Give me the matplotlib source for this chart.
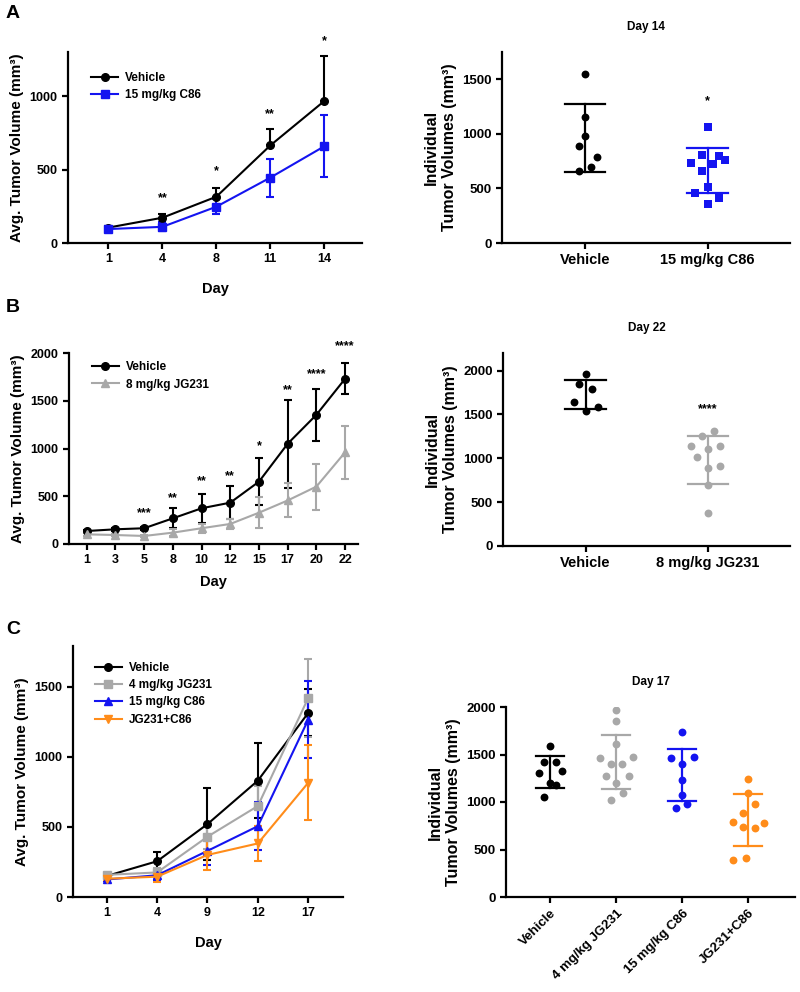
import numpy as np
import matplotlib
matplotlib.use("Agg")
import matplotlib.pyplot as plt
from matplotlib.lines import Line2D

plt.rcParams['font.family'] = ['Liberation Sans', 'DejaVu Sans']
plt.rcParams['font.weight'] = 'bold'
plt.rcParams['axes.labelweight'] = 'bold'
plt.rcParams['axes.linewidth'] = 1.6
plt.rcParams['xtick.major.width'] = 1.6
plt.rcParams['ytick.major.width'] = 1.6
plt.rcParams['xtick.major.size'] = 4
plt.rcParams['ytick.major.size'] = 4
plt.rcParams['xtick.labelsize'] = 9
plt.rcParams['ytick.labelsize'] = 9

BLACK = '#000000'
BLUE = '#1414f0'
GREY = '#a8a8a8'
ORANGE = '#ff8c1a'

# ---- panel A data ----
a_days = ['1', '4', '8', '11', '14']
a_veh_mean = [105, 172, 315, 664, 966]
a_veh_sd = [10, 25, 60, 110, 308]
a_c86_mean = [95, 110, 247, 445, 658]
a_c86_sd = [10, 30, 50, 130, 210]
a_stars = ['', '**', '*', '**', '*']
a_star_y = [0, 308, 486, 877, 1377]

a_veh_pts = [1545, 1159, 982, 893, 792, 663, 700]
a_veh_dx = [0, 0, 0, -0.05, 0.095, -0.05, 0.05]
a_c86_pts = [1061, 807, 731, 801, 722, 761, 663, 511, 456, 416, 355]
a_c86_dx = [0, -0.045, -0.135, 0.095, 0.046, 0.144, -0.045, 0, -0.1, 0.095, 0]
a_veh_bar = [654, 1272]
a_c86_bar = [456, 875]

# ---- panel B data ----
b_days = ['1', '3', '5', '8', '10', '12', '15', '17', '20', '22']
b_veh_mean = [136, 154, 165, 269, 374, 433, 653, 1050, 1353, 1730]
b_veh_sd = [15, 15, 15, 105, 152, 170, 248, 460, 270, 163]
b_jg_mean = [101, 94, 84, 119, 165, 210, 328, 456, 601, 960]
b_jg_sd = [15, 15, 15, 35, 45, 55, 165, 178, 240, 278]
b_stars = ['', '', '***', '**', '**', '**', '*', '**', '****', '****']
b_star_y = [0, 0, 328, 479, 653, 713, 1020, 1615, 1780, 2070]

b_veh_pts = [1966, 1848, 1791, 1638, 1585, 1543]
b_veh_dx = [0, -0.05, 0.05, -0.095, 0.1, 0]
b_jg_pts = [1307, 1257, 1135, 1105, 1135, 1010, 888, 914, 697, 381]
b_jg_dx = [0.05, -0.045, -0.135, 0, 0.1, -0.09, 0, 0.1, 0, 0]
b_veh_bar = [1562, 1889]
b_jg_bar = [705, 1257]

# ---- panel C data ----
c_days = ['1', '4', '9', '12', '17']
c_veh_mean = [150, 255, 520, 830, 1313]
c_veh_sd = [15, 65, 258, 268, 168]
c_jg4_mean = [158, 175, 430, 649, 1420]
c_jg4_sd = [15, 30, 90, 140, 280]
c_c86_mean = [125, 155, 329, 505, 1265]
c_c86_sd = [12, 35, 100, 170, 275]
c_combo_mean = [130, 145, 300, 382, 815]
c_combo_sd = [12, 35, 105, 122, 268]

c_groups = ['Vehicle', '4 mg/kg JG231', '15 mg/kg C86', 'JG231+C86']
c_veh_pts = [1589, 1421, 1421, 1309, 1323, 1200, 1175, 1053]
c_veh_dx = [0, -0.09, 0.09, -0.17, 0.18, 0, 0.09, -0.09]
c_jg4_pts = [1972, 1853, 1614, 1463, 1474, 1396, 1396, 1274, 1274, 1200, 1095, 1018]
c_jg4_dx = [0, 0, 0, -0.24, 0.26, -0.08, 0.09, -0.16, 0.19, 0, 0.1, -0.08]
c_c86_pts = [1737, 1463, 1474, 1396, 1228, 1077, 940, 982]
c_c86_dx = [0, -0.17, 0.18, 0, 0, 0, -0.1, 0.08]
c_combo_pts = [1239, 1098, 982, 888, 789, 782, 737, 730, 393, 414]
c_combo_dx = [0, 0, 0.1, -0.08, -0.23, 0.24, -0.08, 0.1, -0.23, -0.04]
c_bars = [[1147, 1484], [1133, 1702], [1011, 1561], [533, 1081]]

fig = plt.figure(figsize=(8, 9.92), dpi=100)


def px_axes(x0, x1, y0, y1):
    # axes from pixel box (top-left origin)
    return fig.add_axes([x0 / 800, 1 - y1 / 992, (x1 - x0) / 800, (y1 - y0) / 992])


def style(ax):
    ax.spines['top'].set_visible(False)
    ax.spines['right'].set_visible(False)
    ax.tick_params(direction='out')
    for lab in ax.get_xticklabels() + ax.get_yticklabels():
        lab.set_fontweight('bold')


def line_panel(ax, days, series, stars, star_y, ylim, yticks, xlim, xpad=12):
    x = np.arange(len(days))
    handles = []
    for mean, sd, color, marker, label, lower in series:
        lo = np.zeros(len(sd)) if not lower else np.array(sd)
        ax.errorbar(x, mean, yerr=[lo, sd], color=color, marker=marker, ms=5.5,
                    lw=1.5, elinewidth=1.5, capsize=3, capthick=1.5)
        handles.append(Line2D([], [], color=color, marker=marker, ms=5.5, lw=1.5, label=label))
    for xi, s, sy in zip(x, stars, star_y):
        if s:
            ax.text(xi, sy, s, ha='center', va='center', fontsize=9, fontweight='bold')
    ax.set_xticks(x)
    ax.set_xticklabels(days)
    ax.set_xlim(*xlim)
    ax.set_ylim(*ylim)
    ax.set_yticks(yticks)
    ax.set_xlabel('Day', fontsize=10.5, labelpad=xpad)
    ax.set_ylabel('Avg. Tumor Volume (mm³)', fontsize=11)
    style(ax)
    return handles


def dot_panel(ax, groups, pts, dxs, bars, colors, markers, capw, ylim, yticks, xlim, title,
              xfs=10.5):
    for i, (p, dx, b, c, m) in enumerate(zip(pts, dxs, bars, colors, markers)):
        ax.scatter(i + np.array(dx), p, s=32, color=c, marker=m, zorder=3, linewidths=0)
        ax.plot([i, i], b, color=c, lw=1.6, zorder=2)
        for yb in b:
            ax.plot([i - capw, i + capw], [yb, yb], color=c, lw=1.6, zorder=2)
    ax.set_xticks(range(len(groups)))
    ax.set_xticklabels(groups, fontsize=xfs)
    ax.set_xlim(*xlim)
    ax.set_ylim(*ylim)
    ax.set_yticks(yticks)
    ax.tick_params(axis='y', labelsize=9.5)
    ax.set_ylabel('Individual\nTumor Volumes (mm³)', fontsize=11.5)
    ax.set_title(title, fontsize=8.5, fontweight='bold', pad=16)
    style(ax)


def add_legend(ax, handles, top):
    ax.legend(handles=handles, loc='upper left', bbox_to_anchor=(0.05, top), frameon=False,
              fontsize=8.5, handlelength=2.3, labelspacing=0.45, borderaxespad=0.3,
              handletextpad=0.6)


# A left
ax = px_axes(68, 362, 52, 243)
h = line_panel(ax, a_days,
               [(a_veh_mean, a_veh_sd, BLACK, 'o', 'Vehicle', False),
                (a_c86_mean, a_c86_sd, BLUE, 's', '15 mg/kg C86', True)],
               a_stars, a_star_y, (0, 1300), [0, 500, 1000], (-0.75, 4.7))
add_legend(ax, h, 0.94)

# A right
ax = px_axes(502, 790, 52, 243)
dot_panel(ax, ['Vehicle', '15 mg/kg C86'], [a_veh_pts, a_c86_pts], [a_veh_dx, a_c86_dx],
          [a_veh_bar, a_c86_bar], [BLACK, BLUE], ['o', 's'], 0.165,
          (0, 1750), [0, 500, 1000, 1500], (-0.675, 1.67), 'Day 14')
ax.text(1, 1297, '*', ha='center', va='center', fontsize=9, fontweight='bold')

# B left
ax = px_axes(69, 358, 353, 544)
h = line_panel(ax, b_days,
               [(b_veh_mean, b_veh_sd, BLACK, 'o', 'Vehicle', True),
                (b_jg_mean, b_jg_sd, GREY, '^', '8 mg/kg JG231', True)],
               b_stars, b_star_y, (0, 2000), [0, 500, 1000, 1500, 2000], (-0.62, 9.45),
               xpad=6)
add_legend(ax, h, 1.0)

# B right
ax = px_axes(503, 790, 353, 546)
dot_panel(ax, ['Vehicle', '8 mg/kg JG231'], [b_veh_pts, b_jg_pts], [b_veh_dx, b_jg_dx],
          [b_veh_bar, b_jg_bar], [BLACK, GREY], ['o', 'o'], 0.165,
          (0, 2200), [0, 500, 1000, 1500, 2000], (-0.675, 1.67), 'Day 22')
ax.text(1, 1554, '****', ha='center', va='center', fontsize=9, fontweight='bold')

# C left
ax = px_axes(73, 343, 646, 897)
h = line_panel(ax, c_days,
               [(c_veh_mean, c_veh_sd, BLACK, 'o', 'Vehicle', True),
                (c_jg4_mean, c_jg4_sd, GREY, 's', '4 mg/kg JG231', True),
                (c_c86_mean, c_c86_sd, BLUE, '^', '15 mg/kg C86', True),
                (c_combo_mean, c_combo_sd, ORANGE, 'v', 'JG231+C86', True)],
               [''] * 5, [0] * 5, (0, 1790), [0, 500, 1000, 1500], (-0.67, 4.69))
add_legend(ax, h, 0.97)

# C right
ax = px_axes(506, 795, 707, 897)
dot_panel(ax, c_groups, [c_veh_pts, c_jg4_pts, c_c86_pts, c_combo_pts],
          [c_veh_dx, c_jg4_dx, c_c86_dx, c_combo_dx], c_bars,
          [BLACK, GREY, BLUE, ORANGE], ['o', 'o', 'o', 'o'], 0.21,
          (0, 2000), [0, 500, 1000, 1500, 2000], (-0.67, 3.71), 'Day 17', xfs=9.5)
plt.setp(ax.get_xticklabels(), rotation=45, ha='right', rotation_mode='anchor')

for letter, ypx in [('A', 14), ('B', 307), ('C', 630)]:
    fig.text(6 / 800, 1 - ypx / 992, letter, fontsize=14, fontweight='bold', va='center')

fig.savefig('out.png', dpi=100)
